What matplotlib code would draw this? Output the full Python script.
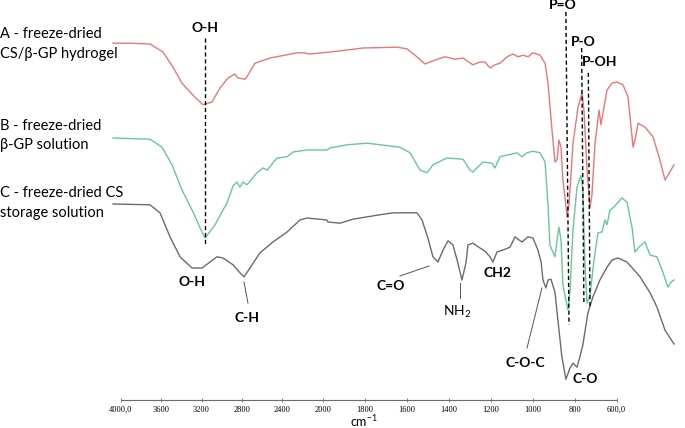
import numpy as np
import matplotlib
matplotlib.use("Agg")
import matplotlib.pyplot as plt

plt.rcParams['font.family'] = ['Lato', 'DejaVu Sans']
plt.rcParams['mathtext.fontset'] = 'custom'
plt.rcParams['mathtext.rm'] = 'Lato'
plt.rcParams['mathtext.bf'] = 'Lato:bold'

# spectrum A - freeze-dried CS/b-GP hydrogel (wavenumber, transmittance a.u.)
wn_a = [4076, 3908, 3710, 3581, 3482, 3393, 3284, 3185, 3096, 3017, 2938, 2868, 2839, 2769,
        2750, 2670, 2520, 2254, 2195, 2126, 1965, 1884, 1808, 1646, 1599, 1551, 1513, 1475,
        1418, 1370, 1332, 1285, 1251, 1227, 1203, 1180, 1156, 1122, 1094, 1070, 1046, 1022,
        999, 965, 941, 927, 908, 894, 884, 875, 865, 856, 842, 837, 827, 808, 784, 765, 756,
        741, 727, 718, 703, 684, 675, 665, 646, 622, 599, 570, 546, 522, 513, 498, 465, 427,
        394, 370, 356, 336, 327]
t_a = [89.2, 89.2, 89, 87, 83.2, 79.2, 76.2, 73.8, 74.5, 78, 80.5, 81.5, 80.5, 80.2,
       80.8, 84.2, 85.5, 86.8, 86.8, 86.5, 87, 87.5, 88, 88.2, 87.8, 85.8, 84, 84.8,
       85.8, 85.2, 85.5, 83.8, 84.5, 84.5, 83, 83.8, 84.2, 85.8, 86.5, 85.8, 86.2, 85.8,
       86.8, 86.2, 84.2, 79.2, 67.5, 59.5, 60, 65, 63.2, 55, 48.8, 45.8, 48.8, 64.2, 73.2, 76.8, 72.5,
       57.5, 48, 51.2, 64.2, 72.5, 68.8, 71.8, 77.5, 79.2, 79.5, 78.8, 75.8, 63.2, 65, 69.2, 68.2, 65.8,
       60, 55, 56.2, 58, 58.8]

# spectrum B - freeze-dried b-GP solution
wn_b = [4076, 3710, 3591, 3492, 3393, 3284, 3214, 3165, 3066, 2987, 2948, 2888, 2849, 2819,
        2789, 2750, 2651, 2591, 2550, 2452, 2353, 2294, 2156, 1980, 1965, 1884, 1789, 1632,
        1584, 1537, 1503, 1475, 1408, 1332, 1299, 1285, 1237, 1194, 1180, 1156, 1075, 1051,
        1027, 999, 965, 941, 927, 918, 908, 894, 884, 875, 865, 856, 842, 832, 822, 808, 789,
        770, 761, 751, 741, 727, 708, 689, 670, 656, 646, 632, 618, 584, 575, 551, 527, 513,
        489, 465, 441, 408, 379, 356, 341, 327]
t_b = [65.5, 65.2, 63.2, 58.8, 52.5, 47, 43, 40.5, 43.8, 47.5, 49.2, 53.5, 54.5, 53.2,
       54.5, 53.8, 56.8, 58, 57.5, 60.5, 60.8, 62, 62.5, 62.5, 63, 63.8, 64.2, 63.2,
       61.8, 57.5, 56.8, 58.8, 60.5, 60.2, 57.5, 57, 59.5, 59.2, 58, 60.8, 61.8, 60.8,
       61.8, 62.2, 61.8, 59.5, 48.8, 38.8, 37.5, 35.8, 40, 43.2, 40, 28.8, 25, 22.5, 27.5, 42.5, 53.2,
       56.2, 52.5, 33.8, 24.2, 26.2, 35, 41.8, 42, 45, 43.8, 47.5, 48, 50, 50.5, 49.5, 43.2, 37,
       38.5, 39.5, 36.2, 35.8, 31.8, 28.2, 29.5, 30]

# spectrum C - freeze-dried CS storage solution
wn_c = [4076, 3710, 3611, 3512, 3413, 3294, 3195, 3116, 3047, 2987, 2888, 2819, 2779, 2720,
        2621, 2492, 2353, 2225, 2156, 1980, 1975, 1918, 1856, 1741, 1665, 1551, 1527, 1499,
        1475, 1451, 1427, 1403, 1380, 1360, 1337, 1318, 1308, 1285, 1251, 1227, 1203, 1189,
        1170, 1141, 1108, 1084, 1070, 1051, 1022, 999, 975, 960, 951, 937, 927, 913, 894, 880,
        861, 842, 822, 808, 789, 775, 761, 737, 713, 680, 646, 622, 594, 551, 489, 441, 408,
        370, 346, 327]
t_c = [49, 48.8, 46.8, 40.8, 35.8, 33, 33, 34.5, 35.8, 35.5, 33.8, 31.8, 30.8, 33,
       36.8, 39.5, 42, 45, 45.5, 45, 44.5, 44.2, 45.2, 46.2, 46.8, 46.8, 45, 40.5,
       35.8, 34.5, 37.5, 39.8, 38.8, 35, 30, 34.2, 38.8, 39.2, 38, 37.2, 35.8, 34.5,
       37, 37.5, 38.2, 40.8, 40.2, 39.5, 40.8, 40.5, 37.5, 34.5, 30, 28, 30, 30.2, 27, 20,
       10.8, 5.2, 8, 9.2, 8.2, 10.8, 13.8, 21.8, 25.8, 30, 33.2, 35, 35.5, 34.5, 30.8, 26.8, 23.2,
       17.5, 15.5, 14]

tick_pos = [4000, 3600, 3200, 2800, 2400, 2000, 1800, 1600, 1400, 1200, 1000, 800, 600]
tick_lab = ["4000,0", "3600", "3200", "2800", "2400", "2000", "1800", "1600", "1400",
            "1200", "1000", "800", "600,0"]

# dashed marker lines: label, (wn top, t top), (wn bottom, t bottom), label pos
markers = [("O-H", (3165, 90.5), (3165, 38.5), (3165, 92)),
           ("P=O", (842, 97), (827, 18.8), (856, 97.7)),
           ("P-O", (767, 88), (756, 23.8), (761, 88.5)),
           ("P-OH", (735, 81.8), (727, 23.2), (680, 83.6))]

# band labels under the CS spectrum: text, position, leader line (or None)
bands = [("O-H", (3294, 28.5), None),
         ("C-H", (2748, 19.6), ((2779, 29.5), (2740, 24.2))),
         ("C=O", (1677, 27.5), ((1632, 31), (1494, 33.5))),
         ("NH$_2$", (1359, 21), ((1346, 29.2), (1346, 25.5))),
         ("CH2", (1169, 30.7), None),
         ("C-O-C", (1037, 8.2), ((1027, 13), (956, 28))),
         ("C-O", (751, 4.3), None)]


def fwd(w):
    w = np.asarray(w, dtype=float)
    return np.where(w <= 2000, 0.21 * w, 420 + 0.101 * (w - 2000))


def inv(u):
    u = np.asarray(u, dtype=float)
    return np.where(u <= 420, u / 0.21, 2000 + (u - 420) / 0.101)


fig = plt.figure(figsize=(6.85, 4.28), dpi=100)
ax = fig.add_axes([110 / 685, 28 / 428, 568 / 685, 400 / 428])
ax.set_xscale('function', functions=(fwd, inv))
ax.set_xlim(4106, 308)
ax.set_ylim(0, 100)

ax.plot(wn_a, t_a, color='#e8777a', lw=1.0)
ax.plot(wn_b, t_b, color='#66c996', lw=1.0)
ax.plot(wn_c, t_c, color='#6b6b6b', lw=1.0)

for name, top, bot, lab in markers:
    ax.plot([top[0], bot[0]], [top[1], bot[1]], color='black', lw=1.0,
            ls=(0, (3, 2)), clip_on=False)
    ax.text(lab[0], lab[1], name, ha='center', va='baseline', fontsize=10,
            fontweight='bold', clip_on=False)

for name, pos, lead in bands:
    weight = 'normal' if 'NH' in name else 'bold'
    ax.text(pos[0], pos[1], name, ha='center', va='baseline', fontsize=10,
            fontweight=weight)
    if lead is not None:
        ax.plot([lead[0][0], lead[1][0]], [lead[0][1], lead[1][1]], color='#555555', lw=0.7)

for s in ['left', 'right', 'top']:
    ax.spines[s].set_visible(False)
ax.spines['bottom'].set_bounds(600, 4000)
ax.spines['bottom'].set_color('#6d6d6d')
ax.spines['bottom'].set_linewidth(0.8)
ax.set_yticks([])
ax.set_xticks(tick_pos)
ax.set_xticklabels(tick_lab, family='Liberation Serif', fontsize=6)
ax.xaxis.set_minor_locator(matplotlib.ticker.NullLocator())
ax.tick_params(axis='x', direction='inout', length=3, width=0.6, color='#6d6d6d', pad=2.5)

fig.text(364 / 685, 1.0 / 428, 'cm$^{-1}$', ha='center', va='baseline', fontsize=9)

legend_txt = [("A - freeze-dried", 38.3), ("CS/β-GP hydrogel", 58.3),
              ("B - freeze-dried", 130), ("β-GP solution", 149.5),
              ("C - freeze-dried CS", 197.3), ("storage solution", 217.3)]
for txt, base in legend_txt:
    fig.text(0.0, 1 - base / 428, txt, ha='left', va='baseline', fontsize=10.5)

fig.savefig('out.png', dpi=100)
